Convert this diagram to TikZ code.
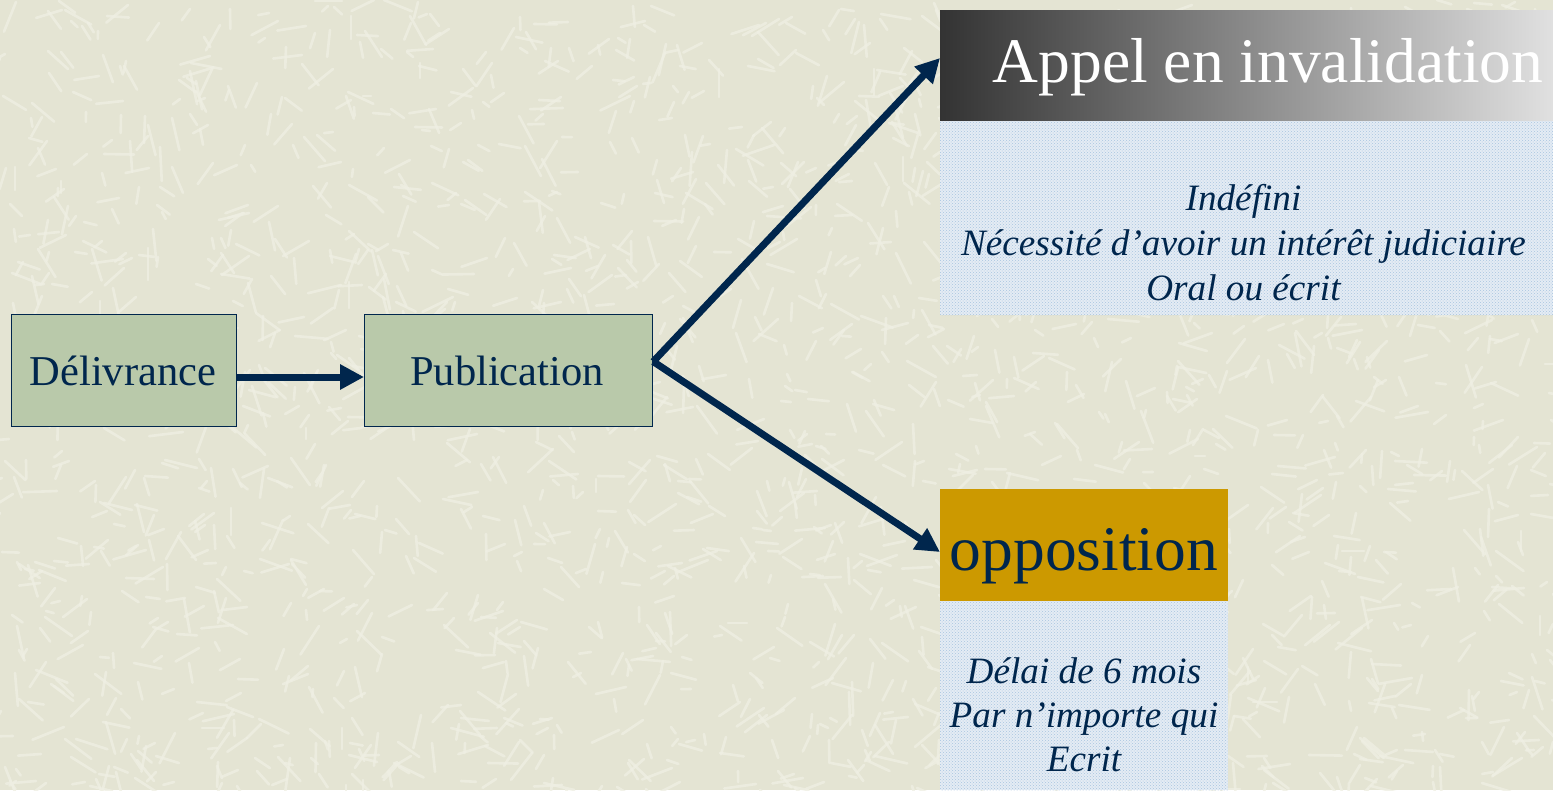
\documentclass[tikz,border=0pt]{standalone}
\usepackage{fontspec}
\setmainfont{Liberation Serif}
\usetikzlibrary{patterns,arrows.meta}
\definecolor{bgbeige}{HTML}{E4E4D3}
\definecolor{bgstreak}{HTML}{EFEFE3}
\definecolor{boxgreen}{HTML}{B9C9AA}
\definecolor{navy}{HTML}{00264D}
\definecolor{gold}{HTML}{CC9900}
\definecolor{bodyblue}{HTML}{E4ECF4}
\definecolor{dotblue}{HTML}{A9C4E0}
\tikzset{
  greenbox/.style={draw=navy, line width=1.2pt, fill=boxgreen, inner sep=0pt, anchor=north west},
  bodybox/.style={fill=bodyblue, postaction={pattern=crosshatch dots, pattern color=dotblue}, inner sep=0pt, anchor=north west},
  flowarrow/.style={draw=navy, line width=7pt, -{Triangle[length=24pt,width=24pt]}},
  boxtext/.style={text=navy, font=\fontsize{42.5}{50}\selectfont, anchor=base},
  headtext/.style={font=\fontsize{63.5}{76}\selectfont, anchor=base},
  bodytext/.style={text=navy, font=\fontsize{37.2}{45}\selectfont\itshape, anchor=base, align=center},
}
\begin{document}
\begin{tikzpicture}[x=1pt,y=-1pt]
\fill[bgbeige] (0,0) rectangle (1553,790);
\useasboundingbox (0,0) rectangle (1553,790);
% background texture
\pgfmathsetseed{42}
\begin{scope}
\clip (0,0) rectangle (1553,790);
\foreach \i in {1,...,2200} {
  \pgfmathsetmacro{\px}{random(0,1553)}
  \pgfmathsetmacro{\py}{random(0,790)}
  \pgfmathsetmacro{\pa}{random(0,179)}
  \pgfmathsetmacro{\pl}{random(8,34)}
  \draw[bgstreak, line width=2.6pt, line cap=round, opacity=0.8] (\px,\py) -- ++(\pa:\pl);
}
\end{scope}
% boxes
\node[greenbox, minimum width=225pt, minimum height=112pt] (deliv) at (11,314) {};
\node[greenbox, minimum width=288pt, minimum height=112pt] (pub) at (364,314) {};
\node[inner sep=0pt, anchor=north west, minimum width=613pt, minimum height=111pt,
      left color=black!80, right color=black!12] (appelhead) at (940,10) {};
\node[bodybox, minimum width=613pt, minimum height=194pt] (appelbody) at (940,121) {};
\node[fill=gold, inner sep=0pt, anchor=north west, minimum width=288pt, minimum height=112pt] (opphead) at (940,489) {};
\node[bodybox, minimum width=288pt, minimum height=189pt] (oppbody) at (940,601) {};
% texts
\node[boxtext] (t1) at (123,385) {Délivrance};
\node[boxtext] (t2) at (507,385) {Publication};
\node[headtext, text=white] (t3) at (1268,82) {Appel en invalidation};
\node[headtext, text=navy] (t4) at (1084,570) {opposition};
\node[bodytext] (b1) at (1243.5,210) {Indéfini};
\node[bodytext] (b2) at (1243.5,255) {Nécessité d’avoir un intérêt judiciaire};
\node[bodytext] (b3) at (1243.5,300) {Oral ou écrit};
\node[bodytext] (c1) at (1084,683) {Délai de 6 mois};
\node[bodytext] (c2) at (1084,727) {Par n’importe qui};
\node[bodytext] (c3) at (1084,771) {Ecrit};
% connectors
\coordinate (pubout) at ([yshift=9pt]pub.east);
\coordinate (appelin) at ([yshift=-48pt]appelhead.north west);
\coordinate (oppin) at ([yshift=-63pt]opphead.north west);
\draw[flowarrow] (deliv.east |- 0,377) -- (pub.west |- 0,377);
\draw[flowarrow] (pubout) -- (appelin);
\draw[flowarrow] (pubout) -- (oppin);
\end{tikzpicture}
\end{document}
